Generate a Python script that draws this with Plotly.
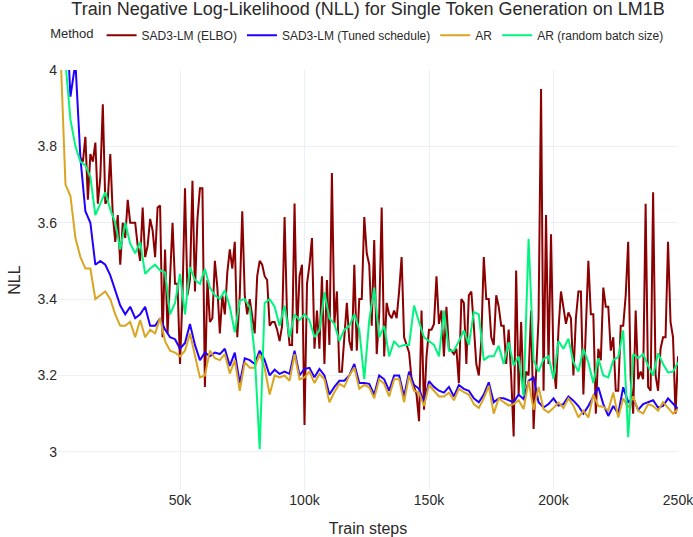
import plotly.graph_objects as go

# ---------------- data ----------------
# SAD3-LM (ELBO): one value every 1k steps, from 10k to 250k
elbo_steps = list(range(10000, 250001, 1000))
elbo_nll = [
    3.77, 3.76, 3.825, 3.66, 3.78, 3.76, 3.81, 3.65, 3.72, 3.91,
    3.65, 3.66, 3.78, 3.62, 3.55, 3.62, 3.49, 3.60, 3.56, 3.66,
    3.60, 3.60, 3.60, 3.54, 3.50, 3.64, 3.51, 3.54, 3.61, 3.58,
    3.51, 3.64, 3.645, 3.30, 3.53, 3.31, 3.45, 3.60, 3.44, 3.44,
    3.23, 3.41, 3.69, 3.41, 3.45, 3.71, 3.42, 3.61, 3.69, 3.69,
    3.17, 3.45, 3.34, 3.35, 3.50, 3.43, 3.31, 3.41, 3.36, 3.47,
    3.53, 3.48, 3.55, 3.30, 3.41, 3.63, 3.41, 3.36, 3.40, 3.36,
    3.31, 3.46, 3.50, 3.49, 3.46, 3.45, 3.33, 3.34, 3.34, 3.32,
    3.29, 3.33, 3.615, 3.35, 3.28, 3.28, 3.65, 3.31, 3.46, 3.49,
    3.07, 3.44, 3.49, 3.56, 3.27, 3.37, 3.27, 3.46, 3.23, 3.45,
    3.28, 3.73, 3.335, 3.42, 3.21, 3.21, 3.31, 3.39, 3.29, 3.265,
    3.49, 3.265, 3.40, 3.40, 3.615, 3.52, 3.49, 3.33, 3.555, 3.256,
    3.36, 3.64, 3.25, 3.39, 3.36, 3.35, 3.37, 3.35, 3.42, 3.51,
    3.30, 3.28, 3.26, 3.19, 3.17, 3.15, 3.08, 3.37, 3.11, 3.25,
    3.32, 3.32, 3.335, 3.46, 3.335, 3.37, 3.25, 3.38, 3.27, 3.265,
    3.256, 3.27, 3.18, 3.40, 3.39, 3.23, 3.41, 3.42, 3.33, 3.23,
    3.20, 3.29, 3.51, 3.40, 3.40, 3.30, 3.28, 3.41, 3.38, 3.33,
    3.33, 3.23, 3.32, 3.20, 3.04, 3.475, 3.15, 3.34, 3.15, 3.21,
    3.20, 3.37, 3.06, 3.23, 3.35, 3.95, 3.16, 3.62, 3.23, 3.57,
    3.23, 3.165, 3.32, 3.42, 3.375, 3.335, 3.365, 3.35, 3.20, 3.35,
    3.42, 3.42, 3.15, 3.35, 3.50, 3.36, 3.36, 3.10, 3.27, 3.24,
    3.43, 3.38, 3.38, 3.265, 3.30, 3.16, 3.16, 3.33, 3.33, 3.41,
    3.55, 3.19, 3.10, 3.37, 3.19, 3.21, 3.19, 3.65, 3.17, 3.16,
    3.68, 3.20, 3.16, 3.27, 3.30, 3.30, 3.55, 3.34, 3.30, 3.10,
    3.25,
]

# other three runs: one value every 2k steps, from 2k to 250k
steps_2k = list(range(2000, 250001, 2000))

tuned_nll = [
    4.30, 4.20, 3.93, 4.02, 3.77, 3.63, 3.60, 3.49, 3.50, 3.49,
    3.462, 3.423, 3.383, 3.36, 3.38, 3.35, 3.36, 3.38, 3.33, 3.33,
    3.35, 3.32, 3.30, 3.295, 3.27, 3.285, 3.335, 3.28, 3.24, 3.26,
    3.25, 3.26, 3.256, 3.27, 3.225, 3.26, 3.18, 3.245, 3.24, 3.23,
    3.265, 3.24, 3.20, 3.215, 3.204, 3.21, 3.204, 3.265, 3.20, 3.217,
    3.22, 3.195, 3.217, 3.20, 3.15, 3.17, 3.186, 3.186, 3.20, 3.23,
    3.18, 3.18, 3.178, 3.15, 3.20, 3.19, 3.16, 3.20, 3.20, 3.145,
    3.21, 3.175, 3.165, 3.13, 3.185, 3.17, 3.16, 3.155, 3.17, 3.145,
    3.175, 3.165, 3.16, 3.14, 3.13, 3.15, 3.182, 3.13, 3.14, 3.14,
    3.134, 3.13, 3.15, 3.138, 3.186, 3.195, 3.13, 3.116, 3.125, 3.14,
    3.121, 3.125, 3.145, 3.134, 3.12, 3.10, 3.12, 3.143, 3.169, 3.125,
    3.094, 3.12, 3.10, 3.169, 3.13, 3.14, 3.11, 3.125, 3.13, 3.135,
    3.116, 3.12, 3.14, 3.125, 3.112,
]

ar_nll = [
    4.05, 3.70, 3.67, 3.56, 3.51, 3.48, 3.48, 3.40, 3.41, 3.42,
    3.40, 3.36, 3.33, 3.33, 3.34, 3.30, 3.345, 3.30, 3.32, 3.31,
    3.35, 3.29, 3.265, 3.26, 3.25, 3.265, 3.31, 3.256, 3.195, 3.20,
    3.265, 3.245, 3.24, 3.256, 3.205, 3.24, 3.16, 3.235, 3.22, 3.22,
    3.256, 3.22, 3.15, 3.20, 3.195, 3.20, 3.186, 3.256, 3.19, 3.195,
    3.21, 3.18, 3.204, 3.19, 3.13, 3.156, 3.178, 3.17, 3.20, 3.221,
    3.165, 3.175, 3.169, 3.14, 3.19, 3.178, 3.145, 3.19, 3.19, 3.13,
    3.20, 3.16, 3.155, 3.12, 3.175, 3.16, 3.145, 3.145, 3.155, 3.135,
    3.165, 3.156, 3.15, 3.125, 3.115, 3.14, 3.173, 3.10, 3.14, 3.13,
    3.121, 3.125, 3.135, 3.112, 3.186, 3.11, 3.17, 3.112, 3.103, 3.115,
    3.129, 3.115, 3.14, 3.121, 3.09, 3.108, 3.09, 3.15, 3.12, 3.118,
    3.108, 3.155, 3.09, 3.14, 3.116, 3.145, 3.108, 3.10, 3.125, 3.12,
    3.108, 3.13, 3.116, 3.10, 3.112,
]

ar_random_nll = [
    4.25, 4.02, 3.87, 3.80, 3.76, 3.75, 3.72, 3.62, 3.65, 3.68,
    3.635, 3.60, 3.53, 3.60, 3.545, 3.52, 3.55, 3.466, 3.48, 3.49,
    3.475, 3.47, 3.36, 3.39, 3.466, 3.36, 3.484, 3.45, 3.44, 3.479,
    3.43, 3.41, 3.40, 3.423, 3.38, 3.313, 3.396, 3.40, 3.379, 3.256,
    3.007, 3.39, 3.40, 3.38, 3.33, 3.383, 3.30, 3.36, 3.345, 3.36,
    3.344, 3.30, 3.318, 3.418, 3.35, 3.335, 3.29, 3.32, 3.33, 3.36,
    3.32, 3.19, 3.345, 3.43, 3.30, 3.33, 3.25, 3.29, 3.275, 3.28,
    3.28, 3.383, 3.34, 3.30, 3.29, 3.28, 3.25, 3.37, 3.265, 3.265,
    3.29, 3.318, 3.28, 3.366, 3.36, 3.24, 3.25, 3.25, 3.278, 3.23,
    3.287, 3.226, 3.25, 3.147, 3.558, 3.24, 3.21, 3.243, 3.25, 3.191,
    3.29, 3.27, 3.296, 3.235, 3.21, 3.27, 3.234, 3.18, 3.245, 3.20,
    3.195, 3.24, 3.248, 3.318, 3.038, 3.256, 3.245, 3.256, 3.225, 3.20,
    3.258, 3.23, 3.208, 3.21, 3.234,
]

series_names = ["SAD3-LM (ELBO)", "SAD3-LM (Tuned schedule)", "AR", "AR (random batch size)"]
series_colors = ["#8b0000", "#2200ff", "#daa520", "#00f57f"]
y_ticks = [3.0, 3.2, 3.4, 3.6, 3.8, 4.0]
y_tick_text = ["3", "3.2", "3.4", "3.6", "3.8", "4"]
x_ticks = [50000, 100000, 150000, 200000, 250000]
x_tick_text = ["50k", "100k", "150k", "200k", "250k"]

# ---------------- figure ----------------
fig = go.Figure()
xs = [elbo_steps, steps_2k, steps_2k, steps_2k]
ys = [elbo_nll, tuned_nll, ar_nll, ar_random_nll]
for name, color, x, y in zip(series_names, series_colors, xs, ys):
    fig.add_trace(go.Scatter(x=x, y=y, mode="lines", name=name,
                             line=dict(color=color, width=2)))

fig.update_layout(
    template="plotly_white",
    width=693, height=537,
    margin=dict(l=58, r=15, t=70, b=47),
    font=dict(family="Liberation Sans, Arial, sans-serif", size=14, color="#2a2a2a"),
    title=dict(text="Train Negative Log-Likelihood (NLL) for Single Token Generation on LM1B",
               x=0.5, xref="paper", xanchor="center", y=0.983, yanchor="middle",
               font=dict(size=18)),
    legend=dict(orientation="h", x=0.485, xanchor="center", y=1.083, yanchor="middle",
                title=dict(text="Method", font=dict(size=13)), font=dict(size=12),
                itemwidth=30, tracegroupgap=0),
    showlegend=True,
)
fig.update_xaxes(range=[1000, 250000], tickvals=x_ticks, ticktext=x_tick_text,
                 ticklabeloverflow="allow",
                 title=dict(text="Train steps", font=dict(size=16)), automargin=False,
                 showline=False, zeroline=False, gridcolor="#ebf0f8")
fig.update_yaxes(range=[2.9, 4.0], tickvals=y_ticks, ticktext=y_tick_text,
                 title=dict(text="NLL", font=dict(size=16), standoff=12), automargin=False,
                 showline=False, zeroline=False, gridcolor="#ebf0f8")

fig.write_html("out.html", config={"displayModeBar": False},
               post_script="document.body.style.margin='0px';document.body.style.overflow='hidden';")
